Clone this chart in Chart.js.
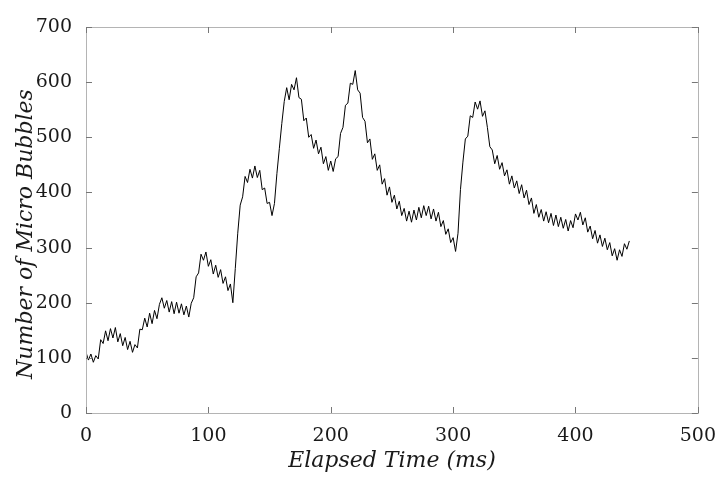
<!DOCTYPE html>
<html>
<head>
<meta charset="utf-8">
<script src="https://cdn.jsdelivr.net/npm/chart.js@4.4.1/dist/chart.umd.min.js"></script>
<style>
  html, body { margin: 0; padding: 0; background: #fff; }
  #chart { display: block; }
</style>
</head>
<body>
<canvas id="chart" width="720" height="480"></canvas>
<script>
// temps écoulé (ms)
var elapsedTime = [
  0, 2, 4, 6, 8, 10, 12, 14, 16, 18, 20, 22, 24, 26, 28, 30, 32, 34, 36, 38,
  40, 42, 44, 46, 48, 50, 52, 54, 56, 58, 60, 62, 64, 66, 68, 70, 72, 74, 76, 78,
  80, 82, 84, 86, 88, 90, 92, 94, 96, 98, 100, 102, 104, 106, 108, 110, 112, 114, 116, 118,
  120, 122, 124, 126, 128, 130, 132, 134, 136, 138, 140, 142, 144, 146, 148, 150, 152, 154, 156, 158,
  160, 162, 164, 166, 168, 170, 172, 174, 176, 178, 180, 182, 184, 186, 188, 190, 192, 194, 196, 198,
  200, 202, 204, 206, 208, 210, 212, 214, 216, 218, 220, 222, 224, 226, 228, 230, 232, 234, 236, 238,
  240, 242, 244, 246, 248, 250, 252, 254, 256, 258, 260, 262, 264, 266, 268, 270, 272, 274, 276, 278,
  280, 282, 284, 286, 288, 290, 292, 294, 296, 298, 300, 302, 304, 306, 308, 310, 312, 314, 316, 318,
  320, 322, 324, 326, 328, 330, 332, 334, 336, 338, 340, 342, 344, 346, 348, 350, 352, 354, 356, 358,
  360, 362, 364, 366, 368, 370, 372, 374, 376, 378, 380, 382, 384, 386, 388, 390, 392, 394, 396, 398,
  400, 402, 404, 406, 408, 410, 412, 414, 416, 418, 420, 422, 424, 426, 428, 430, 432, 434, 436, 438,
  440, 442, 444
];

// nombre de micro bulles
var bubbleCount = [
  110, 96, 107, 92, 104, 98, 133, 126, 149, 131, 153, 136, 155, 129, 144, 122, 137, 115, 130, 110,
  124, 118, 152, 151, 172, 156, 181, 162, 186, 171, 197, 209, 190, 204, 183, 202, 180, 201, 181, 198,
  178, 194, 174, 199, 209, 247, 254, 288, 277, 292, 266, 278, 252, 268, 246, 260, 235, 247, 222, 234,
  200, 262, 326, 377, 392, 429, 418, 442, 426, 448, 427, 440, 405, 408, 380, 382, 358, 380, 434, 480,
  525, 565, 590, 568, 596, 586, 608, 572, 569, 530, 535, 500, 505, 480, 495, 470, 482, 452, 465, 440,
  457, 438, 461, 465, 507, 518, 558, 562, 598, 596, 621, 586, 580, 536, 529, 490, 497, 460, 470, 440,
  450, 415, 425, 395, 410, 382, 395, 370, 384, 358, 371, 348, 366, 346, 368, 350, 373, 354, 376, 358,
  375, 352, 370, 348, 364, 338, 349, 324, 334, 309, 318, 293, 326, 405, 455, 497, 502, 539, 536, 564,
  551, 566, 538, 548, 518, 483, 477, 452, 467, 442, 454, 430, 441, 415, 430, 408, 421, 398, 414, 390,
  404, 378, 390, 362, 378, 355, 369, 348, 365, 345, 362, 340, 359, 338, 355, 335, 351, 330, 349, 336,
  361, 350, 364, 341, 354, 328, 339, 316, 331, 308, 323, 302, 317, 296, 309, 285, 298, 277, 296, 284,
  307, 297, 312
];

// graduations
var xTicks = [0, 100, 200, 300, 400, 500];
var yTicks = [0, 100, 200, 300, 400, 500, 600, 700];

var axisColor = '#b4b4b4';
var textColor = '#1a1a1a';

var points = elapsedTime.map(function (t, i) { return { x: t, y: bubbleCount[i] }; });

// cadre + graduations vers l'intérieur (style matlab)
var framePlugin = {
    id: 'frame',
    afterDraw: function (chart) {
        var ctx = chart.ctx;
        var a = chart.chartArea;
        var xs = chart.scales.x, ys = chart.scales.y;
        ctx.save();
        ctx.strokeStyle = axisColor;
        ctx.lineWidth = 1;
        ctx.strokeRect(Math.round(a.left) + 0.5, Math.round(a.top) + 0.5,
            Math.round(a.right - a.left), Math.round(a.bottom - a.top));
        ctx.strokeStyle = '#777';
        ctx.beginPath();
        xTicks.forEach(function (v) {
            var px = Math.round(xs.getPixelForValue(v)) + 0.5;
            ctx.moveTo(px, a.bottom); ctx.lineTo(px, a.bottom - 6);
            ctx.moveTo(px, a.top); ctx.lineTo(px, a.top + 6);
        });
        yTicks.forEach(function (v) {
            var py = Math.round(ys.getPixelForValue(v)) + 0.5;
            ctx.moveTo(a.left, py); ctx.lineTo(a.left + 6, py);
            ctx.moveTo(a.right, py); ctx.lineTo(a.right - 6, py);
        });
        ctx.stroke();

        // titres des axes
        ctx.fillStyle = textColor;
        ctx.font = 'italic 22px "DejaVu Serif"';
        ctx.textAlign = 'center';
        ctx.textBaseline = 'middle';
        ctx.fillText('Elapsed Time (ms)', (a.left + a.right) / 2, 461);
        ctx.translate(26, 234);
        ctx.rotate(-Math.PI / 2);
        ctx.fillText('Number of Micro Bubbles', 0, 0);
        ctx.restore();
    }
};

var ctx = document.getElementById('chart').getContext('2d');
var chart = new Chart(ctx, {
    type: 'line',
    data: {
        datasets: [{
            data: points,
            borderColor: '#000',
            borderWidth: 1,
            pointRadius: 0,
            tension: 0,
            fill: false
        }]
    },
    options: {
        responsive: false,
        animation: false,
        layout: { padding: { top: 27, right: 19, left: 0, bottom: 0 } },
        plugins: {
            legend: { display: false },
            tooltip: { enabled: false }
        },
        scales: {
            x: {
                type: 'linear',
                min: 0,
                max: 500,
                afterBuildTicks: function (s) { s.ticks = xTicks.map(function (v) { return { value: v }; }); },
                afterFit: function (s) { s.height = 67; },
                grid: { display: false },
                border: { display: false },
                ticks: {
                    padding: 4,
                    color: textColor,
                    font: { family: 'DejaVu Serif', size: 19 },
                    maxRotation: 0
                }
            },
            y: {
                min: 0,
                max: 700,
                afterBuildTicks: function (s) { s.ticks = yTicks.map(function (v) { return { value: v }; }); },
                afterFit: function (s) { s.width = 86; },
                grid: { display: false },
                border: { display: false },
                ticks: {
                    padding: 6,
                    color: textColor,
                    font: { family: 'DejaVu Serif', size: 19 }
                }
            }
        }
    },
    plugins: [framePlugin]
});
</script>
</body>
</html>
